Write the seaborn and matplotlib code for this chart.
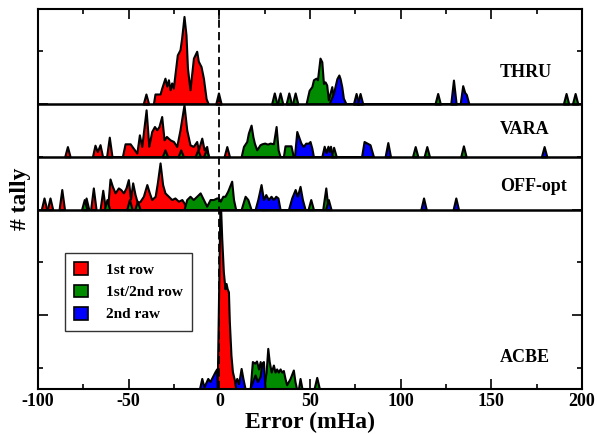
import numpy as np
import matplotlib.pyplot as plt
import seaborn as sns
from matplotlib.patches import Patch, Rectangle

sns.set_theme(style="ticks")
plt.rcParams['font.family'] = ['Liberation Serif', 'DejaVu Serif']
plt.rcParams['font.weight'] = 'bold'
plt.rcParams['text.color'] = 'black'
plt.rcParams['axes.labelcolor'] = 'black'
plt.rcParams['xtick.color'] = 'black'
plt.rcParams['ytick.color'] = 'black'
plt.rcParams['axes.unicode_minus'] = False

RED, GREEN, BLUE = '#ff0000', '#008b00', '#0000ff'
BIN = 1.5  # half width of a single-bin spike (mHa)

# ---- THRU ----
thru_red_x = [-36.4, -35.5, -32.7, -31.8, -30.0, -29.0, -28.1, -27.2, -26.3, -25.4, -23.2, -21.7,
              -20.8, -19.5, -18.4, -17.6, -16.2, -14.3, -12.5, -11.6, -10.1, -8.8, -7.3, -6.1]
thru_red_y = [0, 0.95, 0.95, 1.5, 2.45, 1.7, 2.3, 1.35, 2.0, 1.5, 4.65, 5.15,
              6.25, 8.3, 6.55, 3.4, 1.35, 4.35, 5.0, 4.05, 3.55, 2.45, 0.5, 0]
thru_red_spk = [-40.5, -0.5]
thru_red_spk_h = [0.95, 1.05]
thru_green_x = [47.8, 49.5, 51.0, 51.9, 53.3, 54.1, 55.5, 56.5, 57.4, 58.3, 59.2, 60.1, 62.0, 63.5]
thru_green_y = [0, 1.3, 1.65, 2.3, 2.45, 2.3, 4.35, 4.0, 1.95, 2.1, 1.8, 0.4, 1.65, 0]
thru_green_spk = [30.3, 33.5, 38.3, 41.8, 120.4, 191.2, 196.2]
thru_green_spk_h = [1.05, 1.05, 1.05, 1.05, 1.0, 1.0, 1.0]
thru_blue_x = [60.5, 62.9, 64.8, 65.9, 66.6, 67.5, 68.4, 69.9, 132.8, 134.2, 135.3, 136.2, 137.6]
thru_blue_y = [0, 1.0, 2.4, 2.75, 2.4, 1.65, 0.55, 0, 0, 1.74, 1.1, 0.9, 0]
thru_blue_spk = [75.4, 77.6, 129.1]
thru_blue_spk_h = [1.0, 1.0, 2.27]

# ---- VARA ----
vara_red_x = [-70.0, -68.6, -67.3, -65.8, -64.4, -53.5, -52.0, -49.2, -47.5, -45.5, -44.1, -42.8,
              -40.4, -38.9, -37.3, -35.8, -34.5, -33.3, -31.8, -30.5, -29.2, -27.2, -25.3, -23.5,
              -21.7, -19.5, -18.0, -16.2, -14.4, -12.5, -11.6, -9.7, -8.4, -7.0, -6.0]
vara_red_y = [0, 1.1, 0.5, 1.15, 0, 0, 1.23, 1.23, 0.82, 0.35, 2.08, 0.98,
              4.45, 1.0, 2.4, 2.87, 2.56, 2.87, 3.82, 1.61, 1.93, 1.61, 1.45, 0.98,
              2.56, 4.93, 2.56, 1.14, 0.98, 1.45, 0.66, 1.77, 0.66, 0.98, 0]
vara_red_spk = [-83.8, -60.7, 4.1]
vara_red_spk_h = [0.97, 1.86, 0.97]
vara_green_x = [12.0, 13.3, 15.1, 16.0, 17.5, 18.5, 19.3, 20.6, 22.4, 23.4, 25.0, 26.5, 28.0, 29.8,
                31.3, 32.4, 33.5, 35.3, 36.2, 39.5, 40.8]
vara_green_y = [0, 0.98, 1.45, 2.24, 3.0, 1.9, 1.3, 0.66, 1.14, 1.23, 1.3, 1.2, 1.3, 1.23,
                2.87, 0.66, 0, 0, 1.04, 1.04, 0]
vara_green_spk = [-30.0, -21.3, -11.9, -7.3, 63.0, 108.0, 114.4, 134.6]
vara_green_spk_h = [0.66, 0.66, 0.66, 0.66, 0.9, 0.97, 0.97, 1.04]
vara_blue_x = [41.4, 42.7, 44.0, 45.0, 46.3, 47.6, 49.1, 50.0, 51.0, 51.9, 56.5, 57.8, 58.8, 59.9,
               60.6, 61.3, 62.3, 78.4, 79.8, 81.4, 83.1, 85.0]
vara_blue_y = [0, 2.4, 1.77, 1.29, 0.98, 1.29, 1.29, 1.45, 0.82, 0, 0, 1.0, 0.4, 1.0,
               0.5, 1.0, 0, 0, 1.45, 1.3, 1.14, 0]
vara_blue_spk = [92.9, 179.1]
vara_blue_spk_h = [1.35, 0.97]

# ---- OFF-opt ----
off_red_x = [-61.7, -60.3, -59.0, -57.5, -55.7, -54.4, -52.9, -51.5, -50.2, -49.0, -47.8, -46.5,
             -45.2, -43.7, -41.9, -40.0, -38.6, -37.3, -35.4, -34.2, -32.7, -31.3, -30.0, -28.1,
             -26.3, -24.5, -22.6, -20.7, -18.9, -17.5]
off_red_y = [0, 2.9, 2.2, 1.58, 2.05, 1.9, 1.58, 2.05, 2.84, 1.0, 2.53, 1.42,
             0.63, 0.79, 1.26, 2.37, 1.58, 0.95, 1.26, 2.53, 4.42, 2.37, 1.58, 1.26,
             0.95, 1.1, 0.79, 0.95, 0.47, 0]
off_red_spk = [-96.7, -93.4, -86.9, -73.5, -69.5, -64.3]
off_red_spk_h = [1.1, 1.1, 1.9, 1.1, 2.05, 1.83]
off_green_x = [-19.5, -18.0, -16.2, -14.4, -12.5, -10.6, -8.8, -7.0, -5.1, -3.3, -1.5, -0.5, 0.5,
               1.9, 3.1, 4.6, 6.8, 7.8, 9.0, 12.0, 14.2, 15.7, 17.5, 57.0, 58.7, 60.0]
off_green_y = [0, 0.95, 1.26, 0.95, 1.26, 1.58, 0.95, 0.32, 0.95, 0.95, 1.1, 1.1, 0.79,
               1.26, 1.26, 1.74, 2.69, 0.95, 0, 0, 1.26, 0.95, 0, 0, 2.05, 0]
off_green_spk = [-74.5, -62.0, -49.6, -45.2, 24.7, 50.4]
off_green_spk_h = [0.95, 0.95, 0.95, 0.79, 0.95, 0.95]
off_blue_x = [19.7, 21.2, 23.0, 24.3, 25.6, 27.0, 28.5, 29.8, 31.1, 32.3, 33.5,
              38.1, 39.9, 41.8, 43.0, 44.5, 45.8, 47.3]
off_blue_y = [0, 0.95, 2.37, 0.95, 1.42, 0.95, 1.26, 0.95, 1.26, 1.1, 0,
              0, 1.1, 1.9, 1.26, 2.2, 0.95, 0]
off_blue_spk = [60.1, 112.6, 130.4]
off_blue_spk_h = [0.95, 1.1, 1.1]

# ---- ACBE ----
acbe_red_x = [-1.2, 0.4, 1.3, 2.2, 3.1, 3.7, 4.3, 5.0, 5.5, 6.4, 7.2, 8.3, 9.0]
acbe_red_y = [0, 18.5, 14.3, 11.1, 9.5, 10.0, 9.5, 9.2, 6.4, 3.2, 1.64, 0.85, 0]
acbe_green_x = [17.0, 18.2, 19.5, 20.5, 21.6, 22.5, 23.8, 25.0, 25.8, 26.7, 27.5, 28.6, 29.8, 30.7,
                31.6, 32.5, 33.5, 34.4, 35.3, 36.2, 37.1, 39.0, 40.8, 41.7, 42.6, 43.6, 44.5, 45.6]
acbe_green_y = [0, 2.6, 2.45, 2.65, 1.9, 2.6, 1.2, 0.7, 1.65, 3.85, 2.6, 1.6, 2.27, 1.6,
                1.9, 1.6, 1.9, 1.6, 1.75, 1.0, 0.4, 1.0, 1.8, 0.7, 0, 0, 1.0, 0]
acbe_green_spk = [53.7]
acbe_green_spk_h = [1.1]
acbe_blue_x = [-11.0, -9.7, -8.5, -6.4, -5.2, -3.8, -2.4, -1.5, -0.9, 7.0, 7.7, 8.6, 9.6, 10.6,
               12.0, 13.0, 14.2, 16.8, 18.5, 19.7, 21.0, 22.5, 23.4, 24.3, 25.2]
acbe_blue_y = [0, 1.0, 0.2, 1.0, 0.7, 1.17, 1.64, 1.9, 0, 0, 0.8, 0.6, 1.0, 0.5,
               1.95, 1.0, 0, 0, 0.8, 1.33, 0.7, 1.2, 2.43, 2.6, 0]

panel_names = ['THRU', 'VARA', 'OFF-opt', 'ACBE']
panel_base = [27, 22, 17, 0]
panel_top = [36.05, 27, 22, 17]
label_y = [29.94, 24.54, 19.14, 3.03]
legend_labels = ['1st row', '1st/2nd row', '2nd raw']

panels = {
    'THRU': [(RED, thru_red_x, thru_red_y, thru_red_spk, thru_red_spk_h),
             (GREEN, thru_green_x, thru_green_y, thru_green_spk, thru_green_spk_h),
             (BLUE, thru_blue_x, thru_blue_y, thru_blue_spk, thru_blue_spk_h)],
    'VARA': [(RED, vara_red_x, vara_red_y, vara_red_spk, vara_red_spk_h),
             (GREEN, vara_green_x, vara_green_y, vara_green_spk, vara_green_spk_h),
             (BLUE, vara_blue_x, vara_blue_y, vara_blue_spk, vara_blue_spk_h)],
    'OFF-opt': [(RED, off_red_x, off_red_y, off_red_spk, off_red_spk_h),
                (GREEN, off_green_x, off_green_y, off_green_spk, off_green_spk_h),
                (BLUE, off_blue_x, off_blue_y, off_blue_spk, off_blue_spk_h)],
    'ACBE': [(GREEN, acbe_green_x, acbe_green_y, acbe_green_spk, acbe_green_spk_h),
             (BLUE, acbe_blue_x, acbe_blue_y, [], []),
             (RED, acbe_red_x, acbe_red_y, [], [])],
}

fig = plt.figure(figsize=(5.97, 4.34), dpi=100)
ax = fig.add_axes([0.0637, 0.1037, 0.9112, 0.8767])
ax.set_facecolor('white')

for name, base, top, ly in zip(panel_names, panel_base, panel_top, label_y):
    clip = Rectangle((-100, base), 300, top - base, transform=ax.transData)
    for color, xs, ys, spk, spk_h in panels[name]:
        x = np.array(xs)
        y = np.array(ys)
        poly = ax.fill_between(x, base, base + y, facecolor=color, edgecolor='black',
                               linewidth=1.5, joinstyle='round', zorder=2)
        poly.set_clip_path(clip)
        for c, h in zip(spk, spk_h):
            ax.fill_between([c - BIN, c, c + BIN], base, [base, base + h, base],
                            facecolor=color, edgecolor='black', linewidth=1.5,
                            joinstyle='round', zorder=2)
    ax.text(154.8, ly, name, fontsize=13, fontweight='bold', va='center', ha='left')
    if base > 0:
        ax.axhline(base, color='black', lw=1.8, zorder=4)

ax.axvline(0, color='black', lw=1.3, ls=(0, (4.5, 2.4)), zorder=5)

ax.set_xlim(-100, 200)
ax.set_ylim(0, 36.05)
ax.set_xticks(np.arange(-100, 201, 50))
ax.set_xticks(np.arange(-100, 201, 25), minor=True)
ax.set_yticks([7, 17, 27])
ax.set_yticks([2, 12, 22, 32], minor=True)
ax.set_yticklabels([])
ax.tick_params(which='both', direction='in', top=True, right=True, width=1.2, color='black',
               labelsize=13, pad=3)
ax.tick_params(which='major', length=7)
ax.tick_params(which='minor', length=3.6)
for lab in ax.get_xticklabels():
    lab.set_fontweight('bold')
for sp in ax.spines.values():
    sp.set_linewidth(1.5)
    sp.set_color('black')
    sp.set_zorder(6)

ax.set_xlabel('Error (mHa)', fontsize=17, fontweight='bold', labelpad=1)
ax.set_ylabel('# tally', fontsize=17, fontweight='bold', labelpad=2)

handles = [Patch(facecolor=c, edgecolor='black', linewidth=1.2) for c in (RED, GREEN, BLUE)]
leg = ax.legend(handles, legend_labels, loc='upper left', bbox_to_anchor=(0.0496, 0.357),
                borderaxespad=0, fontsize=11, frameon=True, fancybox=False,
                handlelength=0.9, handleheight=0.9, handletextpad=1.2, labelspacing=0.5,
                borderpad=0.6)
leg.get_frame().set_edgecolor('black')
leg.get_frame().set_linewidth(1.0)
for t in leg.get_texts():
    t.set_fontweight('bold')

fig.savefig('out.png', dpi=100)
